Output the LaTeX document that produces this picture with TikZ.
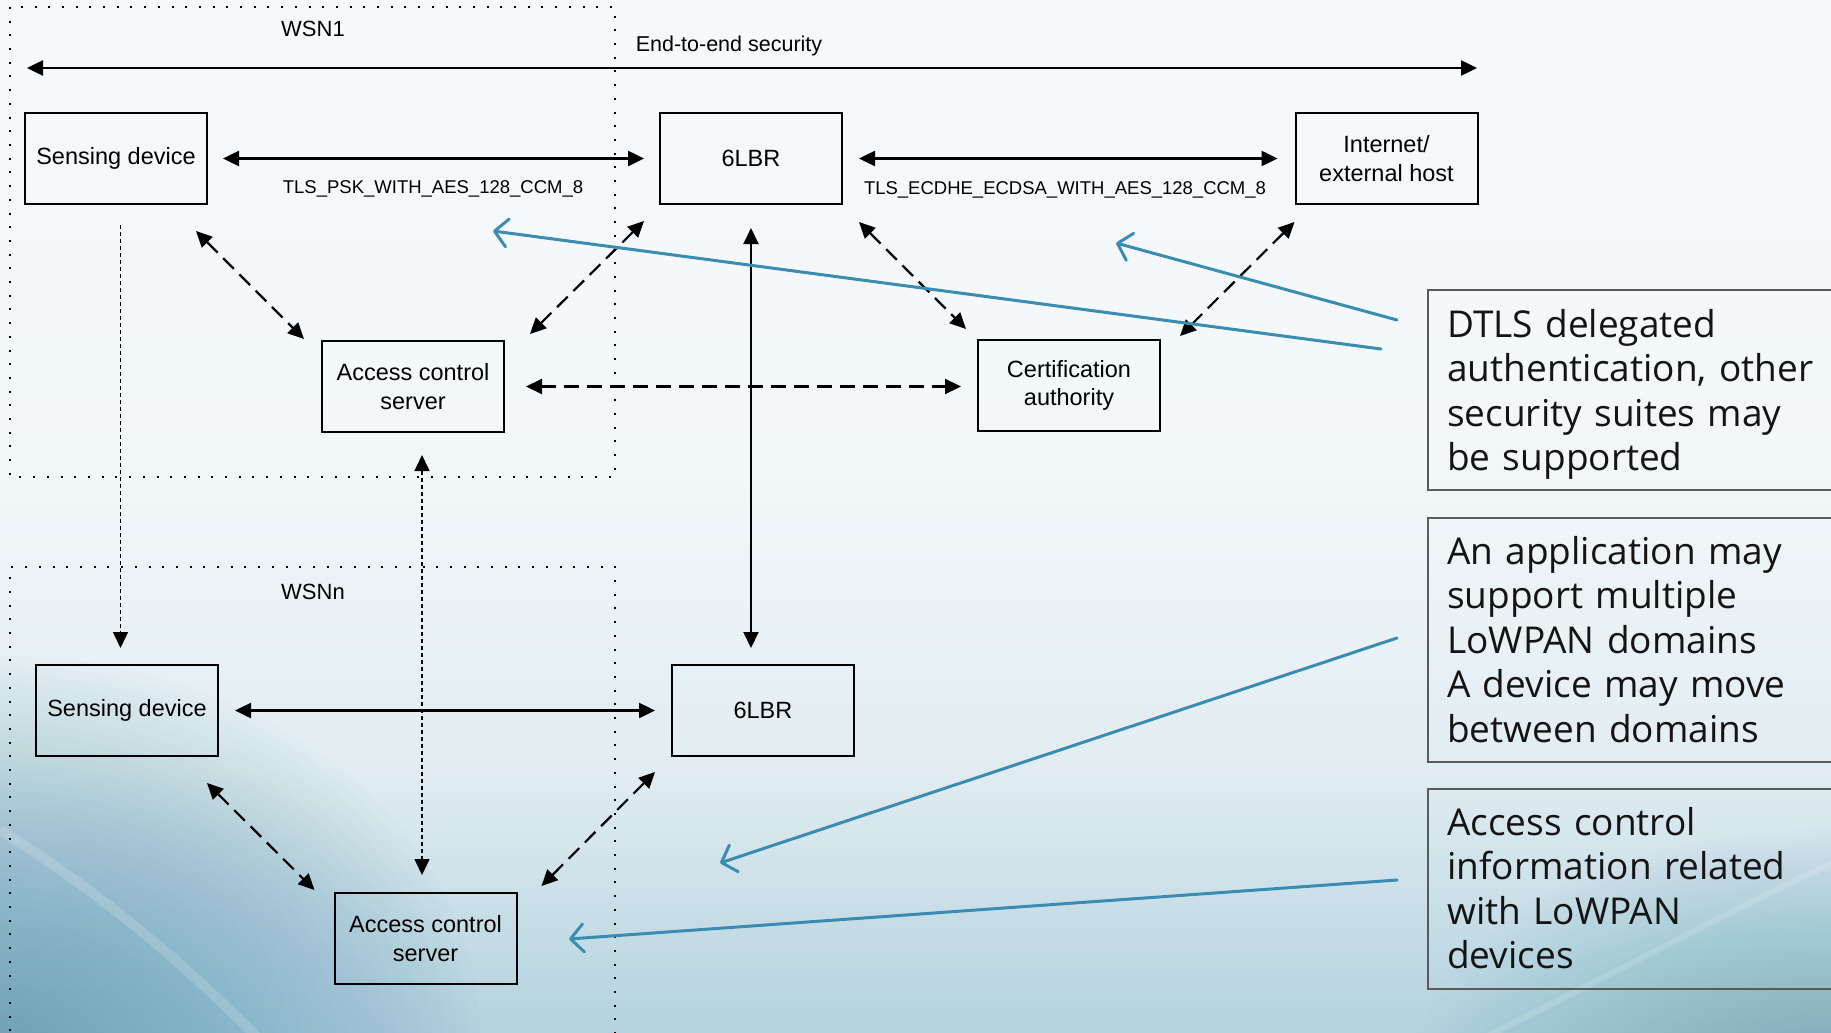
\documentclass[tikz,border=0pt]{standalone}
\usepackage{fontspec}
\setmainfont{Liberation Sans}
\newfontfamily\callfont{Open Sans}
\usetikzlibrary{arrows.meta,calc}

\definecolor{bgTop}{HTML}{F7FAFC}
\definecolor{bgMid}{HTML}{F2F7F9}
\definecolor{bgLow}{HTML}{E2EDF2}
\definecolor{bgBot}{HTML}{B3D2DE}
\definecolor{glowBL}{HTML}{5A99B5}
\definecolor{glowBR}{HTML}{6FA8C0}
\definecolor{callblue}{HTML}{3A8CB0}
\definecolor{framegray}{HTML}{5A5A5A}
\pgfdeclareverticalshading{bgshade}{100bp}{color(0bp)=(bgBot); color(25bp)=(bgBot); color(38bp)=(bgLow); color(52bp)=(bgMid); color(75bp)=(bgTop); color(100bp)=(bgTop)}

\begin{document}
\begin{tikzpicture}[x=1pt, y=-1pt,
  >={Triangle[length=16pt,width=15pt]},
  box/.style={draw, line width=2pt, minimum width=182pt, minimum height=91pt,
    inner sep=0pt, align=center, font=\fontsize{23.5}{28.5}\selectfont},
  lbl/.style={inner sep=0pt, font=\fontsize{22}{26}\selectfont},
  suite/.style={inner sep=0pt, font=\fontsize{18.5}{22}\selectfont},
  solidarr/.style={<->, line width=2.5pt},
  dasharr/.style={<->, line width=2.2pt, dash pattern=on 15pt off 8pt},
  dotarr/.style={line width=1.5pt, dash pattern=on 4pt off 3pt},
  region/.style={line width=2pt, dash pattern=on 2pt off 11.7pt},
  callframe/.style={draw=framegray, line width=1.5pt, anchor=north west,
    minimum width=440pt, inner sep=0pt},
  calltext/.style={anchor=north west, inner sep=0pt, text width=400pt, align=left,
    font=\callfont\fontsize{37}{44.5}\selectfont, text=black!92},
  pointer/.style={draw=callblue, line width=3pt, line cap=round,
    -{Straight Barb[length=13pt,width=28pt,round]}}
]
\useasboundingbox (0,0) rectangle (1831,1033);
\clip (0,0) rectangle (1831,1033);

% backdrop: pale gradient with darker blue corners and soft streaks
\shade[shading=bgshade] (0,0) rectangle (1831,1033);
\foreach \k in {1,...,40}{
  \fill[glowBL, fill opacity=0.022] (0,1040) ellipse ({12*\k} and {9.6*\k});
}
\foreach \k in {1,...,40}{
  \fill[glowBR, fill opacity=0.02] (1831,1070) ellipse ({10.4*\k} and {6*\k});
}
\draw[white, opacity=.16, line width=10pt] (0,830) .. controls (120,905) and (200,980) .. (260,1040);
\draw[white, opacity=.14, line width=6pt] (1480,1040) .. controls (1640,960) and (1750,900) .. (1840,860);

% network regions
\draw[region] (10,7) rectangle (615,477);
\draw[region] (10,1045) -- (10,567) -- (615,567) -- (615,1045);
\node[lbl] (wsn1) at (313,29) {WSN1};
\node[lbl] (wsnn) at (313,592) {WSNn};

% end-to-end security span
\coordinate (e2eL) at (27,68);
\coordinate (e2eR) at (1477,68);
\draw[solidarr] (e2eL) -- (e2eR);
\node[inner sep=0pt, font=\fontsize{21.5}{25}\selectfont] (e2e) at (729,46) {End-to-end security};

% devices and servers
\node[box] (sd1)  at (116,158.5)   {Sensing device};
\node[box] (lbr1) at (751,158.5)   {6LBR};
\node[box] (inet) at (1386.5,158.5) {Internet/\\external host};
\node[box] (acs1) at (413,386.5)   {Access control\\server};
\node[box] (ca)   at (1069,385.5)  {Certification\\authority};
\node[box] (sd2)  at (127,710.5)   {Sensing device};
\node[box] (lbr2) at (763,710.5)   {6LBR};
\node[box] (acs2) at (425.5,938.5) {Access control\\server};

% cipher suites
\node[suite] (psk)   at (433,189)  {TLS\_PSK\_WITH\_AES\_128\_CCM\_8};
\node[suite] (ecdhe) at (1065,190) {TLS\_ECDHE\_ECDSA\_WITH\_AES\_128\_CCM\_8};

% secured links
\draw[solidarr, shorten <=15pt, shorten >=15pt] (sd1.east) -- (lbr1.west);
\draw[solidarr, shorten <=16pt, shorten >=17pt] (lbr1.east) -- (inet.west);
\draw[solidarr, shorten <=16pt, shorten >=16pt] (sd2.east) -- (lbr2.west);
\draw[<->, line width=2pt, shorten <=23pt, shorten >=16pt] (lbr1.south) -- (lbr1.south |- lbr2.north);

% access control and certification exchanges
\draw[dasharr, shorten <=21pt, shorten >=16pt] (acs1.east) -- (acs1.east -| ca.west);
\draw[dasharr] ($(sd1.south east)+(-12,26)$) -- ($(acs1.north west)+(-17,-1)$);
\draw[dasharr] ($(lbr1.south west)+(-15,16)$) -- ($(acs1.north east)+(25,-6)$);
\draw[dasharr] ($(lbr1.south east)+(16,17)$) -- ($(ca.north west)+(-11,-10)$);
\draw[dasharr] ($(inet.south west)+(0,17)$) -- ($(ca.north east)+(19,-3)$);
\draw[dasharr] ($(sd2.south east)+(-12,26)$) -- ($(acs2.north west)+(-19,-2)$);
\draw[dasharr] ($(lbr2.south west)+(-16,15)$) -- ($(acs2.north east)+(24,-6)$);

% mobility between domains
\draw[dotarr, ->, shorten <=20pt, shorten >=16pt] ([xshift=4.5pt]sd1.south) -- ([xshift=4.5pt]sd1.south |- sd2.north);
\draw[dotarr, <->, shorten <=22pt, shorten >=17pt] ([xshift=9pt]acs1.south) -- ([xshift=9pt]acs1.south |- acs2.north);

% callouts
\node[callframe, minimum height=200pt] (f1) at (1427,289) {};
\node[callframe, minimum height=244pt] (f2) at (1427,517) {};
\node[callframe, minimum height=200pt] (f3) at (1427,788) {};
\node[calltext] (t1) at (1447,309) {DTLS delegated\\authentication, other\\security suites may\\be supported};
\node[calltext] (t2) at (1447,536) {An application may\\support multiple\\LoWPAN domains\\A device may move\\between domains};
\node[calltext] (t3) at (1447,807) {Access control\\information related\\with LoWPAN\\devices};

% callout pointers
\coordinate (p1s) at (1381,349); \coordinate (p1e) at (493,231);
\coordinate (p2s) at (1397,320); \coordinate (p2e) at (1116,243);
\coordinate (p3s) at (1397,638); \coordinate (p3e) at (720,863);
\coordinate (p4s) at (1397,880); \coordinate (p4e) at (569,939);
\draw[pointer] (p1s) -- (p1e);
\draw[pointer] (p2s) -- (p2e);
\draw[pointer] (p3s) -- (p3e);
\draw[pointer] (p4s) -- (p4e);
\end{tikzpicture}
\end{document}
